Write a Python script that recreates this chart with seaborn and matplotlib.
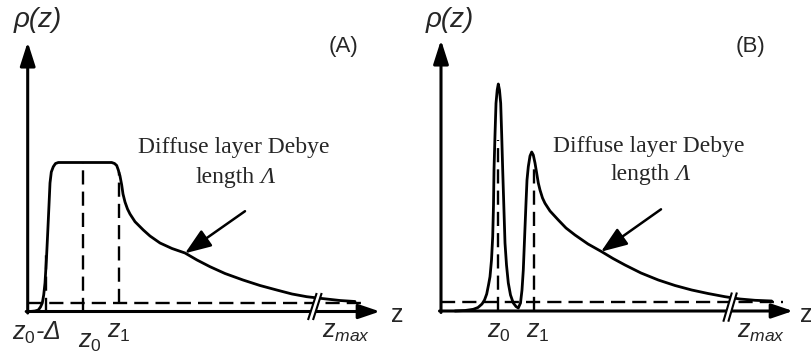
import matplotlib
matplotlib.use("Agg")
import matplotlib.pyplot as plt
import seaborn as sns

# ---- density profile (A): plateau between z0-Δ and z1, then diffuse tail
curve_a_z = [2.3, 7.3, 10.6, 12.8, 14.6, 16.0, 17.3, 18.8, 20.0, 21.3, 22.3, 23.6,
             25.6, 27.8, 30.6, 84.0, 86.8, 89.0, 90.6, 92.3, 94.0, 95.3, 97.3, 99.8,
             102.3, 107.3, 115.6, 122.3, 132.3, 144.3, 157.3, 169.3, 182.3, 197.3,
             215.3, 232.3, 249.0, 264.3, 279.0, 294.3, 312.3, 327.3]
curve_a_rho = [0.0, 0.5, 1.5, 4.5, 8.5, 16.5, 28.5, 53.5, 78.5, 106.5, 128.5, 139.5,
               144.8, 148.0, 149.0, 149.0, 148.0, 146.0, 141.5, 135.5, 126.5, 117.5,
               109.5, 102.5, 97.5, 89.8, 81.5, 75.5, 68.5, 63.0, 58.5, 51.5, 44.8,
               38.0, 31.5, 26.0, 21.5, 17.5, 14.8, 13.0, 11.0, 10.0]

# ---- density profile (B): sharp peak at z0, second peak at z1, diffuse tail
curve_b_z = [14.0, 24.0, 32.3, 37.0, 41.0, 43.5, 45.7, 47.5, 49.0, 50.5, 51.7, 52.5,
             53.0, 54.0, 55.0, 56.2, 57.3, 58.5, 59.7, 60.7, 61.7, 62.8, 64.0, 65.5,
             67.3, 69.5, 72.3, 75.0, 77.3, 79.5, 81.0, 82.3, 83.5, 85.0, 86.0, 87.3,
             89.0, 90.7, 92.3, 94.0, 95.7, 97.3, 99.0, 101.5, 104.0, 109.0, 117.3,
             125.0, 134.0, 147.0, 160.7, 172.0, 184.0, 200.0, 217.3, 234.0, 250.7,
             267.0, 284.0, 299.0, 314.0, 330.7]
curve_b_rho = [0.0, 0.5, 1.7, 3.5, 7.0, 11.0, 17.0, 26.0, 34.3, 51.0, 74.3, 106.0,
               141.0, 176.0, 207.7, 221.0, 227.0, 221.0, 207.7, 176.0, 141.0, 106.0,
               68.0, 46.0, 28.0, 16.0, 8.0, 4.5, 3.0, 8.0, 21.0, 41.0, 71.0, 108.0,
               131.0, 144.3, 155.0, 159.0, 156.0, 148.0, 137.7, 128.0, 121.0, 113.0,
               107.7, 100.0, 91.0, 83.0, 76.0, 67.0, 59.3, 52.5, 46.0, 38.0, 31.0,
               25.5, 21.0, 17.5, 14.3, 12.0, 10.7, 10.0]

# reference levels and positions
base_a, plateau_a = 8.5, 149.0
z0d_a, z0_a, z1_a = 18.5, 55.6, 91.6
base_b = 9.0
z0_b, z1_b = 57.3, 93.0
axis_end_a = (352.3, 269.5)
axis_end_b = (352.0, 271.0)

tick_labels_a = [r"$z_{0}$-Δ", r"$z_{0}$", r"$z_{1}$", r"$z_{max}$"]
tick_labels_b = [r"$z_{0}$", r"$z_{1}$", r"$z_{max}$"]
note_line1 = "Diffuse layer Debye"
note_line2 = "length"
note_symbol = "Λ"

sns.set_theme(style="white")
plt.rcParams["font.family"] = ["Liberation Sans", "DejaVu Sans"]
plt.rcParams["mathtext.fontset"] = "custom"
plt.rcParams["mathtext.it"] = "Liberation Sans:italic"
plt.rcParams["mathtext.rm"] = "Liberation Sans"
plt.rcParams["mathtext.sf"] = "Liberation Sans"

fig = plt.figure(figsize=(8.12, 3.6), dpi=100)
axA = fig.add_axes([0, 0, 410 / 812, 1])
axB = fig.add_axes([410 / 812, 0, 402 / 812, 1])
axA.set_xlim(-27.7, 382.3)
axA.set_ylim(-48.5, 311.5)
axB.set_xlim(-31.0, 371.0)
axB.set_ylim(-49.0, 311.0)

DASH = (0, (6, 3))
LW_AX = 2.2
LW_CURVE = 2.0
LW_DASH = 1.7
SERIF = "Liberation Serif"


def axes_arrows(ax, end):
    ax.annotate("", xy=(0, end[1]), xytext=(0, -1.5),
                arrowprops=dict(arrowstyle="-|>,head_length=0.72,head_width=0.23",
                                mutation_scale=20, lw=LW_AX, color="black",
                                shrinkA=0, shrinkB=0), zorder=2)
    ax.annotate("", xy=(end[0], 0), xytext=(-1.5, 0),
                arrowprops=dict(arrowstyle="-|>,head_length=0.65,head_width=0.22",
                                mutation_scale=20, lw=LW_AX, color="black",
                                shrinkA=0, shrinkB=0), zorder=2)


def axis_break(ax, z1, z2, lo, hi, dz):
    ax.fill([z1, z1 + dz, z2 + dz, z2], [lo, hi, hi, lo], color="white",
            zorder=5, lw=0)
    for z in (z1, z2):
        ax.plot([z, z + dz], [lo, hi], color="black", lw=1.5, zorder=6,
                solid_capstyle="butt")


def note(ax, x1, y1, x2, y2, tail, tip):
    ax.text(x1, y1, note_line1, ha="center", va="baseline", fontsize=17,
            family=SERIF)
    t = ax.text(x2, y2, note_line2, ha="left", va="baseline", fontsize=17,
                family=SERIF)
    ax.annotate(note_symbol, xy=(1, 0), xycoords=t, xytext=(5, 0),
                textcoords="offset points", ha="left", va="bottom",
                fontsize=17, family=SERIF, style="italic")
    ax.annotate("", xy=tip, xytext=tail,
                arrowprops=dict(arrowstyle="-|>,head_length=0.8,head_width=0.3",
                                mutation_scale=20, lw=1.8, color="black",
                                shrinkA=0, shrinkB=0))


# ---------------- panel A ----------------
axes_arrows(axA, axis_end_a)
axA.hlines(base_a, 0, 339.3, colors="black", lw=LW_DASH, linestyles=DASH, zorder=2.5)
axA.vlines(z0d_a, 0, 60, colors="black", lw=LW_DASH, linestyles=DASH, zorder=2.5)
axA.vlines(z0_a, 0, plateau_a, colors="black", lw=LW_DASH, linestyles=DASH, zorder=2.5)
axA.vlines(z1_a, base_a, 140, colors="black", lw=LW_DASH, linestyles=DASH, zorder=2.5)
sns.lineplot(x=curve_a_z, y=curve_a_rho, ax=axA, sort=False, estimator=None,
             color="black", linewidth=LW_CURVE, zorder=3)
axis_break(axA, 280.3, 285.3, -8.5, 18.5, 8.7)
note(axA, 206.5, 158.2, 167.3, 128.8, (217.3, 100.3), (157.3, 58.2))

lab = dict(ha="center", va="baseline", fontsize=18, style="italic")
axA.text(8.8, -28.5, tick_labels_a[0], **lab)
axA.text(61.8, -36.5, tick_labels_a[1], **lab)
axA.text(90.8, -26.5, tick_labels_a[2], **lab)
axA.text(318.8, -26.5, tick_labels_a[3], **lab)
axA.text(369.6, -10.2, "z", ha="center", va="baseline", fontsize=18)
axA.text(9.8, 284.5, "ρ(z)", ha="center", va="baseline", fontsize=20, style="italic")
axA.text(316.3, 259.5, "(A)", ha="center", va="baseline", fontsize=16)

# ---------------- panel B ----------------
axes_arrows(axB, axis_end_b)
axB.hlines(base_b, 0, 342, colors="black", lw=LW_DASH, linestyles=DASH, zorder=2.5)
axB.vlines(z0_b, 0, 171, colors="black", lw=LW_DASH, linestyles=DASH, zorder=2.5)
axB.vlines(z1_b, 0, 143, colors="black", lw=LW_DASH, linestyles=DASH, zorder=2.5)
sns.lineplot(x=curve_b_z, y=curve_b_rho, ax=axB, sort=False, estimator=None,
             color="black", linewidth=LW_CURVE, zorder=3)
axis_break(axB, 282.3, 287.3, -10.7, 18.5, 8.6)
note(axB, 207.3, 159.3, 169.0, 131.0, (220.0, 101.7), (160.0, 59.3))

axB.text(58.0, -26.3, tick_labels_b[0], **lab)
axB.text(96.5, -26.3, tick_labels_b[1], **lab)
axB.text(319.8, -27.3, tick_labels_b[2], **lab)
axB.text(365.5, -10.7, "z", ha="center", va="baseline", fontsize=18)
axB.text(9.0, 284.0, "ρ(z)", ha="center", va="baseline", fontsize=20, style="italic")
axB.text(310.0, 259.0, "(B)", ha="center", va="baseline", fontsize=16)

for ax in (axA, axB):
    ax.set_axis_off()
    if ax.get_legend() is not None:
        ax.get_legend().remove()

fig.savefig("out.png", dpi=100)
